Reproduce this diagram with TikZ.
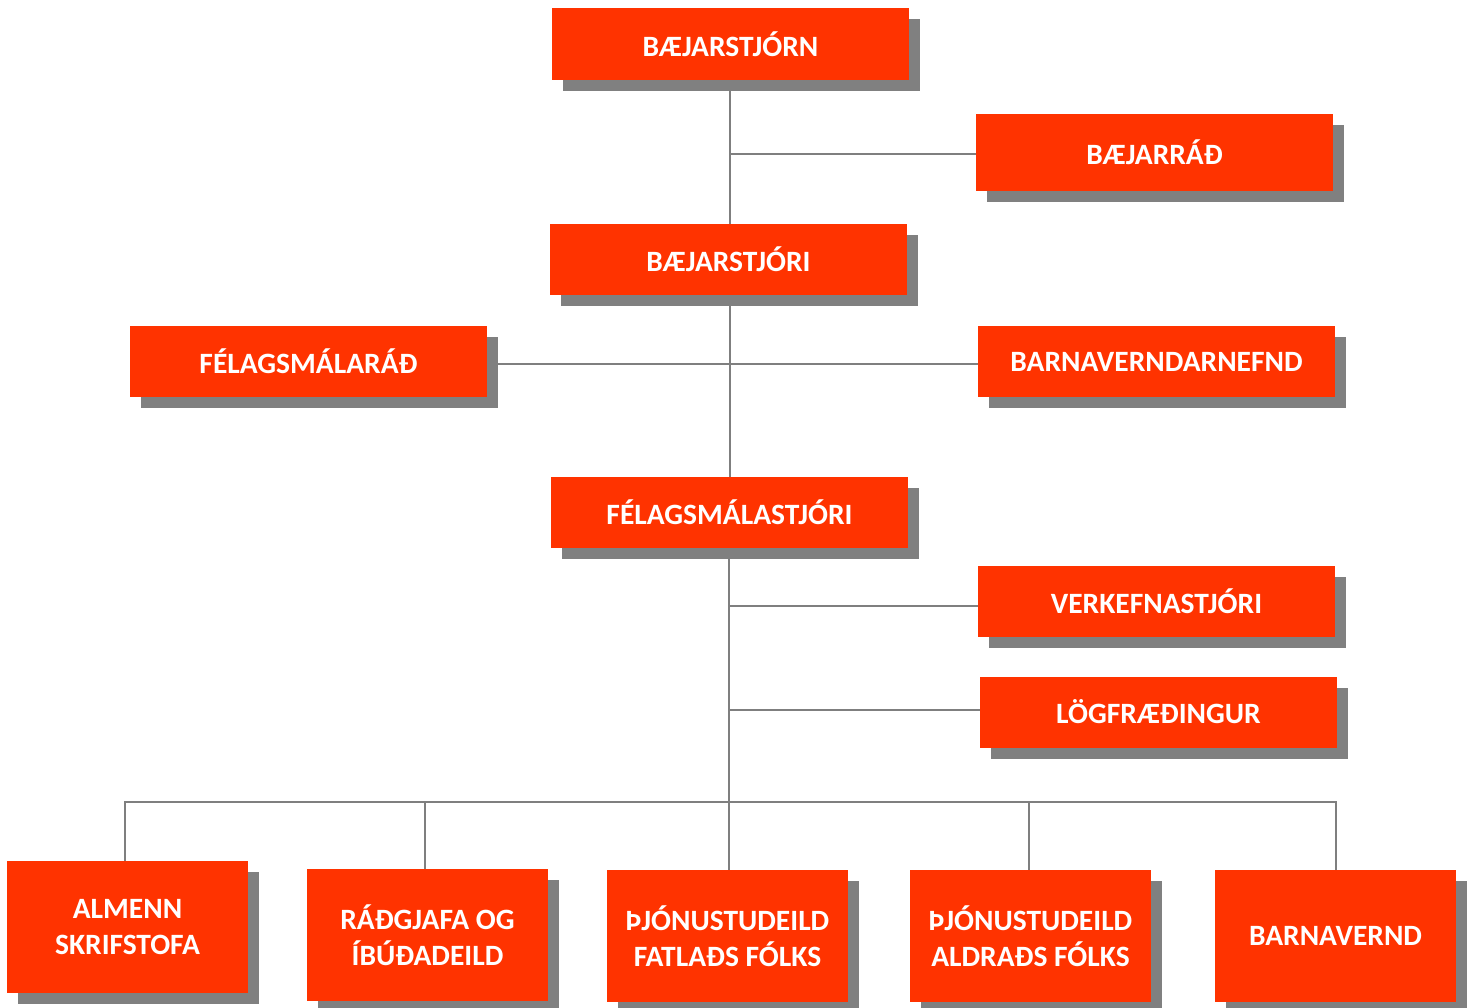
\documentclass[tikz,border=0pt]{standalone}
\usepackage{fontspec}
\setmainfont{Carlito}
\usetikzlibrary{shadows,backgrounds}
\definecolor{boxred}{HTML}{FF3300}
\definecolor{shadowgray}{HTML}{808080}
\definecolor{linegray}{HTML}{7F7F7F}
\begin{document}
\begin{tikzpicture}[x=1pt,y=-1pt,
  orgbox/.style={rectangle,fill=boxred,inner sep=0pt,outer sep=0pt,
    minimum width=357pt,minimum height=71pt,text=white,align=center,
    font=\fontsize{29.5}{36}\selectfont\bfseries,
    drop shadow={shadow xshift=11pt,shadow yshift=-11pt,fill=shadowgray,opacity=1}},
  lowbox/.style={orgbox,minimum width=241pt,minimum height=132pt},
  conn/.style={draw=linegray,line width=2.5pt}]
\useasboundingbox (0,0) rectangle (1477,1007);
\node[orgbox,minimum height=72pt] (n1) at (730.5,44) {BÆJARSTJÓRN};
\node[orgbox,minimum height=77pt] (n2) at (1154.5,152.5) {BÆJARRÁÐ};
\node[orgbox] (n3) at (728.5,259) {BÆJARSTJÓRI};
\node[orgbox] (n4) at (308.5,361.5) {FÉLAGSMÁLARÁÐ};
\node[orgbox] (n5) at (1156.5,361.5) {BARNAVERNDARNEFND};
\node[orgbox] (n6) at (729.5,512) {FÉLAGSMÁLASTJÓRI};
\node[orgbox] (n7) at (1156.5,601.5) {VERKEFNASTJÓRI};
\node[orgbox] (n8) at (1158.5,712) {LÖGFRÆÐINGUR};
\node[lowbox] (n9) at (127.5,927) {ALMENN\\SKRIFSTOFA};
\node[lowbox] (n10) at (427.5,935) {RÁÐGJAFA OG\\ÍBÚÐADEILD};
\node[lowbox] (n11) at (727.5,936) {ÞJÓNUSTUDEILD\\FATLAÐS FÓLKS};
\node[lowbox] (n12) at (1030.5,936) {ÞJÓNUSTUDEILD\\ALDRAÐS FÓLKS};
\node[lowbox] (n13) at (1335.5,936) {BARNAVERND};
\coordinate (t1) at (730,154);
\coordinate (t2) at (730,364);
\coordinate (t3) at (729,606);
\coordinate (t4) at (729,710);
\coordinate (bl) at (125,802);
\coordinate (bm) at (729,802);
\coordinate (br) at (1336,802);
\begin{scope}[on background layer]
\draw[conn] (n1.south -| t1) -- (n3.north -| t1);
\draw[conn] (t1) -- (t1 -| n2.west);
\draw[conn] (n3.south -| t2) -- (n6.north -| t2);
\draw[conn] (t2 -| n4.east) -- (t2 -| n5.west);
\draw[conn] (n6.south -| t3) -- (n11.north -| t3);
\draw[conn] (t3) -- (t3 -| n7.west);
\draw[conn] (t4) -- (t4 -| n8.west);
\draw[conn] (n9.north -| bl) -- (bl) -- (br) -- (n13.north -| br);
\draw[conn] (n10.north -| 425,0) -- (bl -| 425,0);
\draw[conn] (n12.north -| 1029,0) -- (bl -| 1029,0);
\end{scope}
\end{tikzpicture}
\end{document}
